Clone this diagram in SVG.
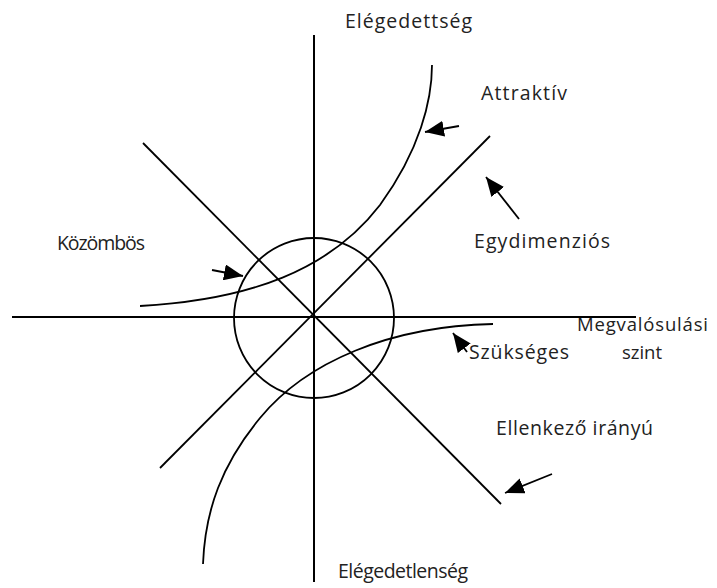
<svg xmlns="http://www.w3.org/2000/svg" width="717" height="588" viewBox="0 0 717 588">
<style>
.ax{stroke:#000;stroke-width:2;fill:none}
.ln{stroke:#000;stroke-width:1.8;fill:none}
.cv{stroke:#000;stroke-width:1.8;fill:none}
.ar{stroke:#000;stroke-width:1.8;fill:none;marker-end:url(#ah)}
text{font-family:"Open Sans","Noto Sans",sans-serif;font-size:19.5px;fill:#222}
.sm{font-size:18.5px}
</style>
<defs>
<marker id="ah" markerUnits="userSpaceOnUse" markerWidth="20" markerHeight="16" refX="19" refY="8" orient="auto">
<path d="M0,0 L19,8 L0,16 z" fill="#000"/>
</marker>
</defs>
<rect width="717" height="588" fill="#fff"/>
<g id="connectors">
<line class="ax" x1="314" y1="35" x2="314" y2="582"/>
<line class="ax" x1="12" y1="317" x2="636" y2="317"/>
<line class="ln" x1="490" y1="136" x2="160" y2="468"/>
<line class="ln" x1="143" y1="143" x2="501" y2="504"/>
<circle class="ln" cx="314" cy="318" r="80"/>
<path class="cv" d="M140,306 C250,300 330,270 380,205 C420,150 432,100 432,65"/>
<path class="cv" d="M493,324 C390,326 306,362 260,418 C222,464 205,510 203,564"/>
<line class="ar" x1="459" y1="126" x2="425" y2="132"/>
<line class="ar" x1="519" y1="219" x2="486" y2="177"/>
<line class="ar" x1="212" y1="270" x2="243" y2="276"/>
<line class="ar" x1="467" y1="352" x2="453" y2="333"/>
<line class="ar" x1="552" y1="474" x2="505" y2="493"/>
</g>
<g id="n-elegedettseg"><text x="345" y="28" textLength="127" lengthAdjust="spacing">Elégedettség</text></g>
<g id="n-attraktiv"><text x="481" y="100" textLength="86" lengthAdjust="spacing">Attraktív</text></g>
<g id="n-kozombos"><text x="57" y="250" textLength="88" lengthAdjust="spacing">Közömbös</text></g>
<g id="n-egydimenzios"><text x="474" y="248" textLength="136" lengthAdjust="spacing">Egydimenziós</text></g>
<g id="n-megvalosulasi"><text class="sm" x="577" y="331" textLength="131" lengthAdjust="spacing">Megvalósulási</text><text class="sm" x="622" y="359" textLength="40" lengthAdjust="spacing">szint</text></g>
<g id="n-szukseges"><text x="469" y="359" textLength="100" lengthAdjust="spacing">Szükséges</text></g>
<g id="n-ellenkezo"><text x="496" y="435" textLength="157" lengthAdjust="spacing">Ellenkező irányú</text></g>
<g id="n-elegedetlenseg"><text x="338" y="578" textLength="130" lengthAdjust="spacing">Elégedetlenség</text></g>
</svg>
